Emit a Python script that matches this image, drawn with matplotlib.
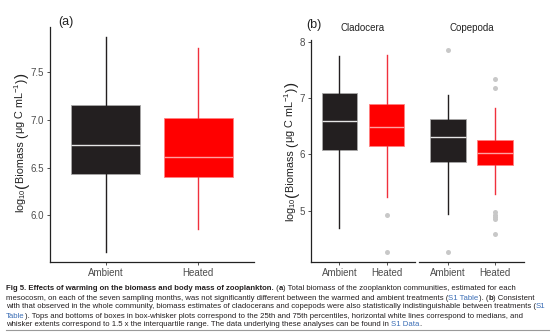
import matplotlib
matplotlib.use("Agg")
import matplotlib.pyplot as plt
from matplotlib.lines import Line2D

plt.rcParams['font.family'] = ['Liberation Sans', 'DejaVu Sans']
plt.rcParams['mathtext.fontset'] = 'custom'
plt.rcParams['mathtext.rm'] = 'Liberation Sans'
plt.rcParams['mathtext.it'] = 'Liberation Sans:italic'
plt.rcParams['mathtext.bf'] = 'Liberation Sans:bold'

# ---- data: log10 biomass summaries (box-whisker statistics) ----
treatments = ["Ambient", "Heated"]

# (a) whole community
tot_whislo = [5.62, 5.86]
tot_q1 = [6.43, 6.40]
tot_med = [6.74, 6.615]
tot_q3 = [7.16, 7.02]
tot_whishi = [7.87, 7.76]
tot_fliers = [[], []]

# (b) by taxon
taxa = ["Cladocera", "Copepoda"]
clad_whislo = [4.69, 5.24]
clad_q1 = [6.08, 6.14]
clad_med = [6.60, 6.48]
clad_q3 = [7.09, 6.89]
clad_whishi = [7.75, 7.76]
clad_fliers = [[], [4.93, 4.27]]

cope_whislo = [4.95, 5.30]
cope_q1 = [5.86, 5.82]
cope_med = [6.31, 6.02]
cope_q3 = [6.62, 6.25]
cope_whishi = [7.06, 6.82]
cope_fliers = [[7.85, 4.27], [7.33, 7.18, 4.97, 4.93, 4.89, 4.86, 4.59]]

yticks_a = [6.0, 6.5, 7.0, 7.5]
yticks_b = [5, 6, 7, 8]

fill_colors = ["#231f20", "#ff0000"]
whisker_colors = ["#231f20", "#f0303c"]
median_color = "#e6e6e6"
outlier_color = "#c8c8c8"
tick_label_color = "#4d4d4d"
label_color = "#222222"

W, H = 554, 334
fig = plt.figure(figsize=(W / 100, H / 100), dpi=100)
renderer = fig.canvas.get_renderer()


def add_px_axes(left, top, right, bottom):
    return fig.add_axes([left / W, 1 - bottom / H, (right - left) / W, (bottom - top) / H])


def text_advance(s, fs, weight="normal"):
    """Horizontal advance of a string in pixels (keeps edge spaces)."""
    t1 = fig.text(0, 0, "|" + s + "|", fontsize=fs, weight=weight)
    t2 = fig.text(0, 0, "||", fontsize=fs, weight=weight)
    w = t1.get_window_extent(renderer).width - t2.get_window_extent(renderer).width
    t1.remove()
    t2.remove()
    return w


def make_stats(whislo, q1, med, q3, whishi, fliers):
    return [dict(whislo=whislo[i], q1=q1[i], med=med[i], q3=q3[i],
                 whishi=whishi[i], fliers=fliers[i]) for i in range(len(med))]


def draw_boxes(ax, stats):
    art = ax.bxp(stats, positions=[1, 2], widths=0.75, patch_artist=True,
                 showcaps=False, manage_ticks=False,
                 boxprops=dict(linewidth=0.6, edgecolor="#bdbdbd"),
                 medianprops=dict(color=median_color, linewidth=1.0),
                 whiskerprops=dict(linewidth=1.0),
                 flierprops=dict(marker="o", markersize=3.6, markerfacecolor=outlier_color,
                                 markeredgecolor="none", linestyle="none"))
    for i, box in enumerate(art["boxes"]):
        box.set_facecolor(fill_colors[i])
        box.set_edgecolor("#a8a8a8" if i == 0 else "#ff8080")
        art["whiskers"][2 * i].set_color(whisker_colors[i])
        art["whiskers"][2 * i + 1].set_color(whisker_colors[i])
    art["medians"][1].set_color("#ffa0a0")
    ax.set_xlim(0.4, 2.6)
    ax.set_xticks([1, 2])
    ax.set_xticklabels(treatments)


def style_axes(ax, left_axis=True):
    for s in ["top", "right"]:
        ax.spines[s].set_visible(False)
    for s in ["bottom", "left"]:
        ax.spines[s].set_linewidth(0.9)
        ax.spines[s].set_color("#222222")
    ax.tick_params(length=2.5, width=0.6, color="#333333", labelsize=7,
                   labelcolor=tick_label_color, pad=2)
    if not left_axis:
        ax.spines["left"].set_visible(False)
        ax.tick_params(axis="y", left=False, labelleft=False)


# y-axis title as runs: (text, fontsize, baseline shift in px)
label_fs = 7.8
ylabel_runs = [
    (r"log$_{10}$", label_fs, 0.0),
    ("(", 11.0, 1.2),
    ("Biomass ", label_fs, 0.0),
    ("(", 9.2, 0.6),
    (r"μg C mL$^{-1}$", label_fs, 0.0),
    (")", 9.2, 0.6),
    (")", 11.0, 1.2),
]


def draw_vertical_label(x_base, y_center, runs):
    widths = [text_advance(s, fs) for s, fs, _ in runs]
    y = y_center + sum(widths) / 2
    for (s, fs, shift), w in zip(runs, widths):
        fig.text((x_base + shift) / W, 1 - y / H, s, fontsize=fs, color=label_color,
                 rotation=90, rotation_mode="anchor", ha="left", va="baseline")
        y -= w


# ---- panel (a) ----
ax_a = add_px_axes(50, 26.6, 254, 262)
draw_boxes(ax_a, make_stats(tot_whislo, tot_q1, tot_med, tot_q3, tot_whishi, tot_fliers))
ax_a.set_ylim(5.51, 7.98)
ax_a.set_yticks(yticks_a)
ax_a.set_yticklabels([f"{v:.1f}" for v in yticks_a])
style_axes(ax_a)
draw_vertical_label(24.5, 143, ylabel_runs)
fig.text(58 / W, 1 - 22 / H, "(a)", fontsize=9, ha="left", va="center", color=label_color)

# ---- panel (b): one facet per taxon ----
ax_c = add_px_axes(311, 40, 415, 262)
ax_p = add_px_axes(419, 40, 524, 262)
facet_data = [
    (ax_c, make_stats(clad_whislo, clad_q1, clad_med, clad_q3, clad_whishi, clad_fliers)),
    (ax_p, make_stats(cope_whislo, cope_q1, cope_med, cope_q3, cope_whishi, cope_fliers)),
]
for k, (ax, st) in enumerate(facet_data):
    draw_boxes(ax, st)
    ax.set_ylim(4.09, 8.03)
    ax.set_yticks(yticks_b)
    style_axes(ax, left_axis=(k == 0))
    ax.text(0.5, 1.03, taxa[k], transform=ax.transAxes, ha="center", va="bottom",
            fontsize=7, color=label_color)
draw_vertical_label(294.5, 152, ylabel_runs)
fig.text(306 / W, 1 - 25 / H, "(b)", fontsize=9, ha="left", va="center", color=label_color)

# ---- caption ----
text_color = "#231f20"
link_color = "#3a6db5"
caption_lines = [
    [("Fig 5. Effects of warming on the biomass and body mass of zooplankton.", "b"),
     (" (", "n"), ("a", "b"),
     (") Total biomass of the zooplankton communities, estimated for each", "n")],
    [("mesocosm, on each of the seven sampling months, was not significantly different "
      "between the warmed and ambient treatments (", "n"), ("S1 Table", "l"), ("). (", "n"),
     ("b", "b"), (") Consistent", "n")],
    [("with that observed in the whole community, biomass estimates of cladocerans and "
      "copepods were also statistically indistinguishable between treatments (", "n"),
     ("S1", "l")],
    [("Table", "l"), ("). Tops and bottoms of boxes in box-whisker plots correspond to the "
                      "25th and 75th percentiles, horizontal white lines correspond to medians, and", "n")],
    [("whisker extents correspond to 1.5 x the interquartile range. The data underlying "
      "these analyses can be found in ", "n"), ("S1 Data", "l"), (".", "n")],
]
baselines = [290.5, 299.5, 308.5, 317.5, 326.5]
cap_left, cap_right = 6.0, 548.0


def line_width(line, fs):
    return sum(text_advance(s, fs, "bold" if k == "b" else "normal") for s, k in line)


# size the caption so the longest line spans the caption block
cap_fs = 5.5
for _ in range(4):
    widest = max(line_width(l, cap_fs) for l in caption_lines)
    cap_fs *= (cap_right - cap_left) / widest

for line, yb in zip(caption_lines, baselines):
    x = cap_left
    for s, kind in line:
        weight = "bold" if kind == "b" else "normal"
        color = link_color if kind == "l" else text_color
        fig.text(x / W, 1 - yb / H, s, fontsize=cap_fs, weight=weight, color=color,
                 ha="left", va="baseline")
        x += text_advance(s, cap_fs, weight)

fig.add_artist(Line2D([6 / W, 549 / W], [1 - 329.5 / H, 1 - 329.5 / H],
                      transform=fig.transFigure, color="#9a9a9a", linewidth=0.8))

fig.savefig("out.png", dpi=100)
